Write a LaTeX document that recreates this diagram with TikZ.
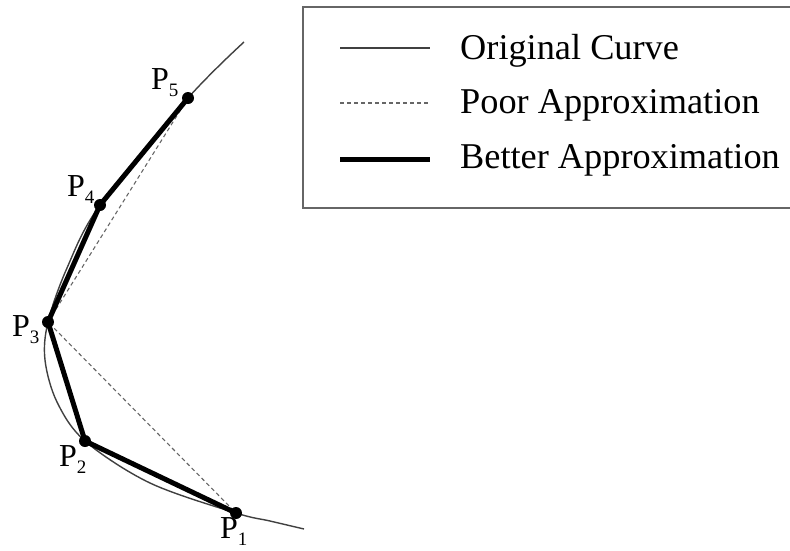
\documentclass[tikz,border=0pt]{standalone}
\usepackage{fontspec}
\setmainfont{Liberation Serif}
\tikzset{
  orig/.style={draw=black!75, line width=1.4pt},
  poor/.style={draw=black!60, line width=1.1pt, dash pattern=on 4pt off 3pt},
  better/.style={draw=black, line width=5pt, line cap=round, line join=round},
  dot/.style={circle, fill=black, inner sep=0pt, minimum size=12pt},
  lgtext/.style={anchor=base west, inner sep=0pt, font=\fontsize{36.3}{40}\selectfont},
  plabel/.style={anchor=base west, inner sep=0pt, font=\fontsize{32}{34}\selectfont}
}
\newcommand{\Plab}[1]{P\raisebox{-7pt}{\fontsize{19}{20}\selectfont #1}}
\begin{document}
\begin{tikzpicture}[x=1pt,y=-1pt]
\useasboundingbox (0,0) rectangle (790,550);
\clip (0,0) rectangle (790,550);
% points
\coordinate (p5) at (188,98);
\coordinate (p4) at (100,205);
\coordinate (p3) at (48,322);
\coordinate (p2) at (85,441);
\coordinate (p1) at (236,513);
% original curve
\draw[orig] plot[smooth, tension=0.55] coordinates {(244,42) (188,98) (100,205) (67,268) (48,322) (45,360) (57,402) (85,441) (150,483) (236,513) (270,521) (304,529)};
% poor approximation
\draw[poor] (p5) -- (p3) -- (p1);
% better approximation
\draw[better] (p5) -- (p4) -- (p3) -- (p2) -- (p1);
% dots
\foreach \i in {1,...,5} \node[dot] (d\i) at (p\i) {};
% labels
\node[plabel] (l5) at (151,89) {\Plab{5}};
\node[plabel] (l4) at (67,196) {\Plab{4}};
\node[plabel] (l3) at (12,336) {\Plab{3}};
\node[plabel] (l2) at (59,466) {\Plab{2}};
\node[plabel] (l1) at (220,538) {\Plab{1}};
% legend
\draw[draw=black!60, line width=1.5pt] (303,7) rectangle (800,208);
\coordinate (a1) at (340,48); \coordinate (b1) at (430,48);
\coordinate (a2) at (340,103); \coordinate (b2) at (430,103);
\coordinate (a3) at (340,159); \coordinate (b3) at (430,159);
\draw[orig] (a1) -- (b1);
\draw[poor] (a2) -- (b2);
\draw[better, line cap=butt] (a3) -- (b3);
\node[lgtext] (t1) at (460,59) {Original Curve};
\node[lgtext] (t2) at (460,113) {Poor Approximation};
\node[lgtext] (t3) at (460,168) {Better Approximation};
\end{tikzpicture}
\end{document}
